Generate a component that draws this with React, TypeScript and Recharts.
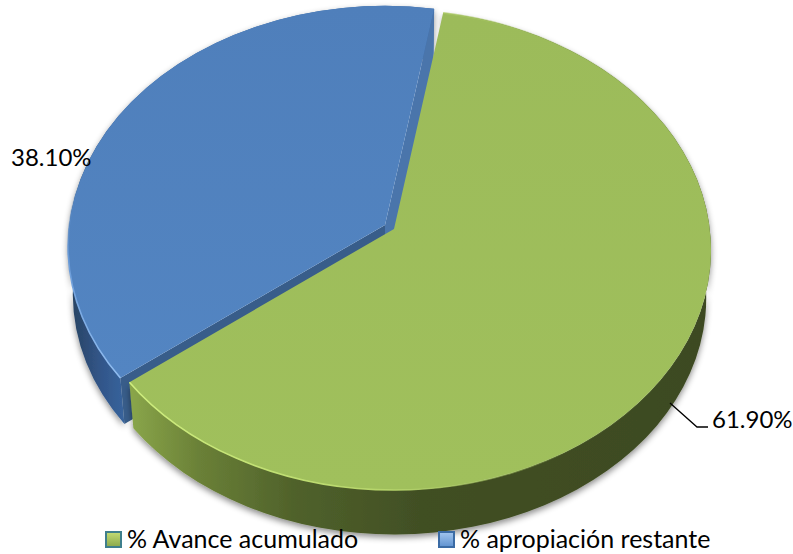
import { PieChart, Pie, Legend } from "recharts";

// listed as in the legend
const categories = ["% Avance acumulado", "% apropiación restante"];
const shares = [61.9, 38.1];
const topColors = ["#9bbb59", "#4f81bd"];

// the blue slice has to be painted first so the green one covers its cut walls
const pieData = categories
  .map((name, i) => ({ name, value: shares[i], fill: topColors[i], idx: i }))
  .reverse();

const W = 793;
const H = 554;
const SQUASH = 240 / 317; // tilt of the pie
const APEX_SHIFT = 21; // apex sits above the ellipse centre
const DEPTH = 48;
const FLOOR_SCALE = 0.985;
const EXPLODE = 10.5;

const rad = (d: number) => (d * Math.PI) / 180;

type Pt = { x: number; y: number };

// where a ray from the apex meets the rim of the tilted disc
const rim = (cx: number, cy: number, r: number, angle: number) => {
  const ry = r * SQUASH;
  const py = -APEX_SHIFT / ry;
  const dx = Math.cos(rad(angle));
  const dy = -Math.sin(rad(angle));
  const b = py * dy;
  const t = -b + Math.sqrt(b * b - (py * py - 1));
  return { u: t * dx, v: py + t * dy, ry, ecx: cx, ecy: cy + APEX_SHIFT };
};

const Slice3D = (props: any) => {
  const { cx, cy, outerRadius, startAngle, endAngle, midAngle, payload } = props;
  const isBlue = payload.idx === 1;
  const ox = isBlue ? EXPLODE * Math.cos(rad(midAngle)) : 0;
  const oy = isBlue ? -EXPLODE * SQUASH * Math.sin(rad(midAngle)) : 0;
  const r = outerRadius;

  const top = (a: number): Pt => {
    const p = rim(cx, cy, r, a);
    return { x: p.ecx + r * p.u + ox, y: p.ecy + p.ry * p.v + oy };
  };
  const floor = (a: number): Pt => {
    const p = rim(cx, cy, r, a);
    return {
      x: p.ecx + FLOOR_SCALE * r * p.u + ox,
      y: p.ecy + DEPTH + FLOOR_SCALE * p.ry * p.v + oy,
    };
  };
  const apex: Pt = { x: cx + ox, y: cy + oy };
  const apexFloor: Pt = {
    x: cx + ox,
    y: cy + APEX_SHIFT + DEPTH - FLOOR_SCALE * APEX_SHIFT + oy,
  };

  const large = Math.abs(endAngle - startAngle) > 180 ? 1 : 0;
  const ry = r * SQUASH;
  const a = top(startAngle);
  const b = top(endAngle);
  const fa = floor(startAngle);
  const fb = floor(endAngle);
  const arcTop = `A ${r} ${ry} 0 ${large} 1 ${b.x} ${b.y}`;
  const arcBack = `A ${r * FLOOR_SCALE} ${ry * FLOOR_SCALE} 0 ${large} 0 ${fa.x} ${fa.y}`;

  const quad = (p: Pt, q: Pt, s: Pt, t: Pt) =>
    `M ${p.x} ${p.y} L ${q.x} ${q.y} L ${s.x} ${s.y} L ${t.x} ${t.y} Z`;

  return (
    <g>
      <path
        d={`M ${a.x} ${a.y} ${arcTop} L ${fb.x} ${fb.y} ${arcBack} Z`}
        fill={isBlue ? "url(#wallBlue)" : "url(#wallGreen)"}
        filter="url(#softShadow)"
      />
      {isBlue && (
        <>
          <path d={quad(apex, a, fa, apexFloor)} fill="#385d8a" />
          <path d={quad(apex, b, fb, apexFloor)} fill="#4a75ab" />
        </>
      )}
      <path
        d={`M ${apex.x} ${apex.y} L ${a.x} ${a.y} ${arcTop} Z`}
        fill={isBlue ? "url(#topBlue)" : "url(#topGreen)"}
      />
      <path
        d={`M ${a.x} ${a.y} ${arcTop}`}
        fill="none"
        stroke={isBlue ? "url(#rimBlue)" : "url(#rimGreen)"}
        strokeWidth={1.6}
      />
    </g>
  );
};

const labelFont = { fontFamily: "Lato", fontSize: 24, fill: "#000" };

// blue sits at the left edge, green gets a leader line
const SliceLabel = (props: any) => {
  const { cx, cy, outerRadius, payload, value } = props;
  const text = `${value.toFixed(2)}%`;
  if (payload.idx === 1) {
    return (
      <text x={cx - outerRadius - 66} y={cy - 63} {...labelFont}>
        {text}
      </text>
    );
  }
  const ex = cx + outerRadius - 41;
  const ey = cy + 174;
  return (
    <g>
      <polyline
        points={`${ex},${ey} ${ex + 27},${ey + 24} ${ex + 38},${ey + 24}`}
        fill="none"
        stroke="#000"
        strokeWidth={1.3}
      />
      <text x={cx + outerRadius + 1} y={cy + 199} {...labelFont}>
        {text}
      </text>
    </g>
  );
};

const legendIcons = ["url(#iconGreen)", "url(#iconBlue)"];
const legendStroke = ["#3f7f8c", "#3b6ba5"];
const legendLefts = [105, 438];

const LegendRow = ({ payload }: any) => {
  const items = [...(payload || [])].sort(
    (p: any, q: any) => categories.indexOf(p.value) - categories.indexOf(q.value)
  );
  return (
    <div style={{ position: "relative", width: W, height: 24 }}>
      {items.map((item: any, i: number) => (
        <div
          key={item.value}
          style={{
            position: "absolute",
            left: legendLefts[i],
            top: 0,
            display: "flex",
            alignItems: "center",
            whiteSpace: "nowrap",
            fontFamily: "Lato",
            fontSize: 25,
            lineHeight: "24px",
            color: "#000",
          }}
        >
          <svg width={17} height={17} style={{ marginRight: 5, position: "relative", top: 1 }}>
            <rect
              x={1}
              y={1}
              width={15}
              height={15}
              fill={legendIcons[i]}
              stroke={legendStroke[i]}
              strokeWidth={2}
            />
          </svg>
          {item.value}
        </div>
      ))}
      <svg width={0} height={0} style={{ position: "absolute" }}>
        <defs>
          <linearGradient id="iconGreen" x1="0" y1="0" x2="0" y2="1">
            <stop offset="0%" stopColor="#c4dc74" />
            <stop offset="100%" stopColor="#8aa84a" />
          </linearGradient>
          <linearGradient id="iconBlue" x1="0" y1="0" x2="0" y2="1">
            <stop offset="0%" stopColor="#a3c6ef" />
            <stop offset="100%" stopColor="#5f92d0" />
          </linearGradient>
        </defs>
      </svg>
    </div>
  );
};

const App = () => {
  return (
    <div style={{ position: "absolute", left: 0, top: 0, width: W, height: H }}>
      <PieChart width={W} height={H} margin={{ top: 0, right: 0, bottom: 0, left: 0 }}>
        <defs>
          <linearGradient id="wallGreen" gradientUnits="userSpaceOnUse" x1="130" y1="0" x2="711" y2="0">
            <stop offset="0%" stopColor="#8aa64a" />
            <stop offset="12%" stopColor="#6a8037" />
            <stop offset="28%" stopColor="#50622b" />
            <stop offset="50%" stopColor="#414f24" />
            <stop offset="100%" stopColor="#3d4a21" />
          </linearGradient>
          <linearGradient id="wallBlue" gradientUnits="userSpaceOnUse" x1="68" y1="0" x2="135" y2="0">
            <stop offset="0%" stopColor="#28425f" />
            <stop offset="50%" stopColor="#32568a" />
            <stop offset="100%" stopColor="#3a6aa5" />
          </linearGradient>
          <linearGradient id="topGreen" x1="0" y1="0" x2="0" y2="1">
            <stop offset="0%" stopColor="#9cbb5a" />
            <stop offset="100%" stopColor="#a0c05c" />
          </linearGradient>
          <linearGradient id="topBlue" x1="0" y1="0" x2="0" y2="1">
            <stop offset="0%" stopColor="#4f7fbb" />
            <stop offset="100%" stopColor="#5385c2" />
          </linearGradient>
          <linearGradient id="rimGreen" gradientUnits="userSpaceOnUse" x1="130" y1="0" x2="711" y2="0">
            <stop offset="0%" stopColor="#cfee7e" />
            <stop offset="45%" stopColor="#b5d46a" />
            <stop offset="75%" stopColor="#9bbb59" stopOpacity="0.3" />
            <stop offset="100%" stopColor="#9bbb59" stopOpacity="0" />
          </linearGradient>
          <linearGradient id="rimBlue" gradientUnits="userSpaceOnUse" x1="0" y1="373" x2="0" y2="180">
            <stop offset="0%" stopColor="#8fbcf0" />
            <stop offset="60%" stopColor="#6a9bd8" />
            <stop offset="100%" stopColor="#4f81bd" stopOpacity="0" />
          </linearGradient>
          <filter id="softShadow" filterUnits="userSpaceOnUse" x="0" y="0" width={W} height={H}>
            <feDropShadow dx="0" dy="3" stdDeviation="3" floodColor="#000" floodOpacity="0.45" />
          </filter>
        </defs>
        <Pie
          data={pieData}
          dataKey="value"
          nameKey="name"
          cx={394}
          cy={229}
          outerRadius={317}
          startAngle={-142.6}
          endAngle={-502.6}
          stroke="none"
          shape={Slice3D}
          label={SliceLabel}
          labelLine={false}
          isAnimationActive={false}
        />
        <Legend
          content={LegendRow}
          wrapperStyle={{ position: "absolute", left: 0, top: 526, width: W, margin: 0 }}
        />
      </PieChart>
    </div>
  );
};

export default App;
